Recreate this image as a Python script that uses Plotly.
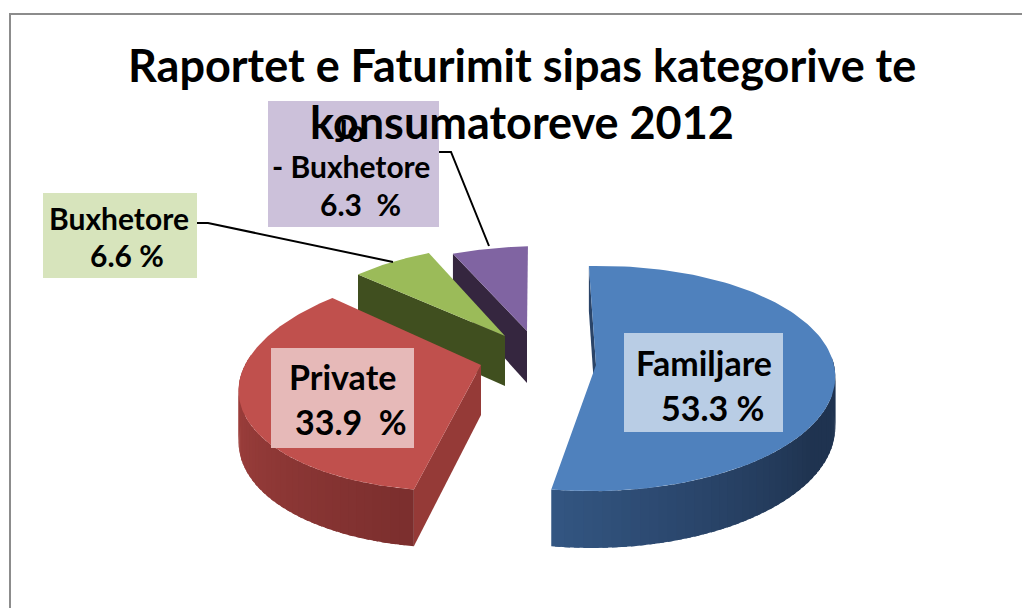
import math
import plotly.graph_objects as go

categories = ["Familjare", "Private", "Buxhetore", "Jo - Buxhetore"]
values = [53.3, 33.9, 6.6, 6.3]
label_lines = [["Familjare", "53.3 %"], ["Private", "33.9  %"], ["Buxhetore", "6.6 %"], ["Jo", "- Buxhetore", "6.3  %"]]
title_lines = ["Raportet e Faturimit sipas kategorive te", "konsumatoreve 2012"]

TOP_COLORS = ["#4f81bd", "#c0504d", "#9bbb59", "#8064a2"]
EDGE_COLORS = ["#2a4468", "#953a37", "#404f1f", "#35263f"]
WALL_FROM = [(52, 87, 132), (163, 66, 63), (64, 79, 31), (53, 38, 63)]
WALL_TO = [(31, 51, 80), (124, 47, 46), (64, 79, 31), (53, 38, 63)]
BOX_COLORS = ["#b9cde5", "#e6b9b8", "#d7e4bc", "#ccc1da"]

# slice geometry: explode position, radii, perspective, shear, thickness
PIE_ROTATION = -3.0
SLICE_GEOM = [
    dict(cx=596, cy=365, rx=238, ry=111, shear=-4, h=50),
    dict(cx=481, cy=365, rx=236, ry=111, shear=-27, h=50),
    dict(cx=505, cy=336, rx=218, ry=102, shear=-10, h=50),
    dict(cx=527, cy=331, rx=215, ry=95, shear=-11, h=52),
]
PERSP = 0.12
BOXES = [(624, 333, 783, 432), (271, 348, 414, 448), (43, 193, 197, 278), (268, 101, 439, 227)]
LABEL_POS = [[(704, 362), (712, 407)], [(342, 376), (351, 421)], [(119, 218), (127, 255)],
             [(350, 130), (351, 166), (360, 204)]]
LABEL_SIZES = [34, 34, 30, 30]
LEADERS = {2: ([197, 208, 393], [223, 223, 262]), 3: ([439, 451, 489], [152, 152, 246])}


def project(g, deg):
    t = math.radians(deg)
    X, Y = math.sin(t), -math.cos(t)
    s = 1 / (1 - PERSP * Y)
    return g["cx"] + g["rx"] * X * s + g["shear"] * Y, g["cy"] + g["ry"] * Y * s, s


def mix(a, b, f):
    f = max(0.0, min(1.0, f))
    return "rgb(%d,%d,%d)" % tuple(round(a[i] + (b[i] - a[i]) * f) for i in range(3))


def poly(fig, xs, ys, color):
    fig.add_trace(go.Scatter(x=xs, y=ys, mode="lines", fill="toself", fillcolor=color,
                             line=dict(color=color, width=0), hoverinfo="skip", showlegend=False))


fig = go.Figure()

total = sum(values)
angles = []
a = PIE_ROTATION
for v in values:
    angles.append((a, a + v / total * 360))
    a += v / total * 360


def draw_slice(i):
    g = SLICE_GEOM[i]
    a0, a1 = angles[i]
    h = g["h"]
    # flat wall on the leading edge, which faces the viewer
    ex, ey, es = project(g, a0)
    poly(fig, [g["cx"], ex, ex, g["cx"]], [g["cy"], ey, ey + h * es, g["cy"] + h], EDGE_COLORS[i])
    # curved outer wall: strips overlap the next one, so no seams show
    n = max(2, int((a1 - a0) / 2))
    step = (a1 - a0) / n
    for k in range(n - 1, -1, -1):
        d0, d1 = a0 + k * step, min(a1, a0 + (k + 1.6) * step)
        m = (a0 + (k + 0.5) * step) % 360
        if not (85 <= m <= 275):
            continue
        x0, y0, s0 = project(g, d0)
        x1, y1, s1 = project(g, d1)
        f = (190 - m) / 70 if i == 0 else (270 - m) / 80
        poly(fig, [x0, x1, x1, x0], [y0, y1, y1 + h * s1, y0 + h * s0], mix(WALL_FROM[i], WALL_TO[i], f))
    # top face
    pts = [project(g, a0 + (a1 - a0) * k / 120) for k in range(121)]
    poly(fig, [g["cx"]] + [p[0] for p in pts], [g["cy"]] + [p[1] for p in pts], TOP_COLORS[i])


for i in (3, 2, 1, 0):
    draw_slice(i)

for i, (lx, ly) in LEADERS.items():
    fig.add_trace(go.Scatter(x=lx, y=ly, mode="lines", line=dict(color="#000000", width=2),
                             hoverinfo="skip", showlegend=False))

shapes = [dict(type="rect", xref="x", yref="y", x0=10, y0=14, x1=1040, y1=640, layer="below",
               line=dict(color="#8c8c8c", width=2), fillcolor="#ffffff")]
for i, b in enumerate(BOXES):
    shapes.append(dict(type="rect", xref="x", yref="y", x0=b[0], y0=b[1], x1=b[2], y1=b[3], layer="above",
                       line=dict(width=0), fillcolor=BOX_COLORS[i]))

FONT = "Lato, Carlito, 'Open Sans', sans-serif"
annotations = []
for i, lines in enumerate(label_lines):
    for (tx, ty), line in zip(LABEL_POS[i], lines):
        annotations.append(dict(x=tx, y=ty, xref="x", yref="y", text="<b>%s</b>" % line, showarrow=False,
                                xanchor="center", yanchor="middle",
                                font=dict(family=FONT, size=LABEL_SIZES[i], color="#000000")))
for line, ty in zip(title_lines, (65, 122)):
    annotations.append(dict(x=522, y=ty, xref="x", yref="y", text="<b>%s</b>" % line, showarrow=False,
                            xanchor="center", yanchor="middle", font=dict(family=FONT, size=45, color="#000000")))

fig.update_layout(
    width=1022, height=608, margin=dict(l=0, r=0, t=0, b=0),
    paper_bgcolor="#ffffff", plot_bgcolor="#ffffff", showlegend=False,
    xaxis=dict(range=[0, 1022], visible=False, fixedrange=True),
    yaxis=dict(range=[608, 0], visible=False, fixedrange=True),
    shapes=shapes, annotations=annotations,
)
fig.write_html("out.html", post_script="document.body.style.margin='0';", config={"displayModeBar": False})
